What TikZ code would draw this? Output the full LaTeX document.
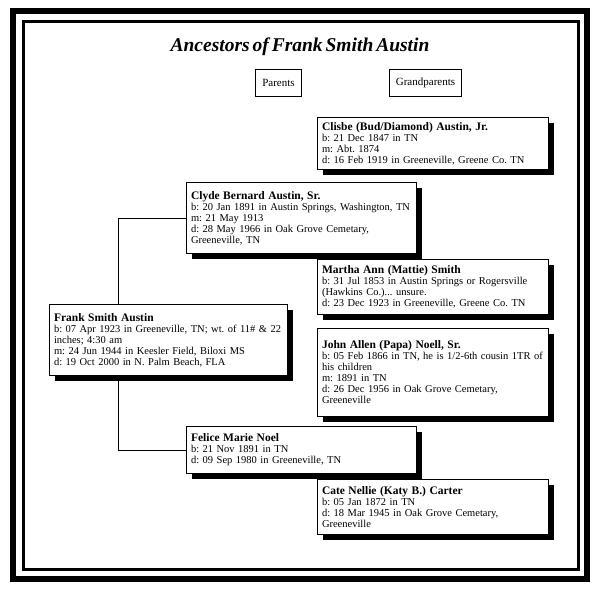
\documentclass[tikz,border=0pt]{standalone}
\usepackage{fontspec}
\setmainfont{Liberation Serif}[WordSpace=0.6]
\usetikzlibrary{positioning,shadows}
\frenchspacing

\newcommand{\pname}[1]{{\fontsize{11.5}{11}\selectfont\bfseries #1}}

\tikzset{
  person/.style={draw, line width=1pt, fill=white, anchor=north west, align=left,
    inner xsep=4.5pt, inner ysep=0pt, font=\fontsize{10.5}{11}\selectfont,
    drop shadow={shadow xshift=5pt, shadow yshift=-5pt, fill=black, opacity=1}},
  header/.style={draw, line width=1pt, anchor=north west, inner sep=0pt,
    minimum height=27pt, font=\fontsize{11}{12}\selectfont},
  link/.style={line width=1pt}
}

\begin{document}
\begin{tikzpicture}[x=1pt, y=-1pt]
\useasboundingbox (0,0) rectangle (605,595);
\draw[line width=6pt] (13,11) rectangle (587,579);
\draw[line width=3pt] (23.5,21.5) rectangle (578,569.5);

\node[font=\fontsize{19.5}{22}\selectfont\bfseries\itshape, anchor=base] (title) at (300,51) {Ancestors of Frank Smith Austin};
\node[header, minimum width=46pt] (parents) at (255,69) {Parents};
\node[header, minimum width=72pt] (grandparents) at (389,69) {Grandparents};

% grandparents
\node[person, text width=222pt, minimum height=52pt] (clisbe) at (317,117) {\pname{Clisbe (Bud/Diamond) Austin, Jr.}\\ b: 21 Dec 1847 in TN\\ m: Abt. 1874\\ d: 16 Feb 1919 in Greeneville, Greene Co. TN};
\node[person, text width=221pt, minimum height=71pt] (clyde) at (186,182) {\pname{Clyde Bernard Austin, Sr.}\\ b: 20 Jan 1891 in Austin Springs, Washington, TN\\ m: 21 May 1913\\ d: 28 May 1966 in Oak Grove Cemetary,\\ Greeneville, TN};
\node[person, text width=222pt, minimum height=55pt] (martha) at (317,259) {\pname{Martha Ann (Mattie) Smith}\\ b: 31 Jul 1853 in Austin Springs or Rogersville\\ (Hawkins Co.)... unsure.\\ d: 23 Dec 1923 in Greeneville, Greene Co. TN};
\node[person, text width=222pt, minimum height=88pt] (john) at (317,328) {\pname{John Allen (Papa) Noell, Sr.}\\ b: 05 Feb 1866 in TN, he is 1/2-6th cousin 1TR of\\ his children\\ m: 1891 in TN\\ d: 26 Dec 1956 in Oak Grove Cemetary,\\ Greeneville};
\node[person, text width=221pt, minimum height=47pt] (felice) at (186,426) {\pname{Felice Marie Noel}\\ b: 21 Nov 1891 in TN\\ d: 09 Sep 1980 in Greeneville, TN};
\node[person, text width=222pt, minimum height=55pt] (cate) at (317,479) {\pname{Cate Nellie (Katy B.) Carter}\\ b: 05 Jan 1872 in TN\\ d: 18 Mar 1945 in Oak Grove Cemetary,\\ Greeneville};

% parents link
\coordinate (spine) at (118,0);
\draw[link] (clyde.west) -- (clyde.west -| spine) -- (felice.west -| spine) -- (felice.west);

\node[person, text width=229pt, minimum height=71pt] (frank) at (49,304) {\pname{Frank Smith Austin}\\ b: 07 Apr 1923 in Greeneville, TN; wt. of 11\# \& 22\\ inches; 4:30 am\\ m: 24 Jun 1944 in Keesler Field, Biloxi MS\\ d: 19 Oct 2000 in N. Palm Beach, FLA};
\end{tikzpicture}
\end{document}
